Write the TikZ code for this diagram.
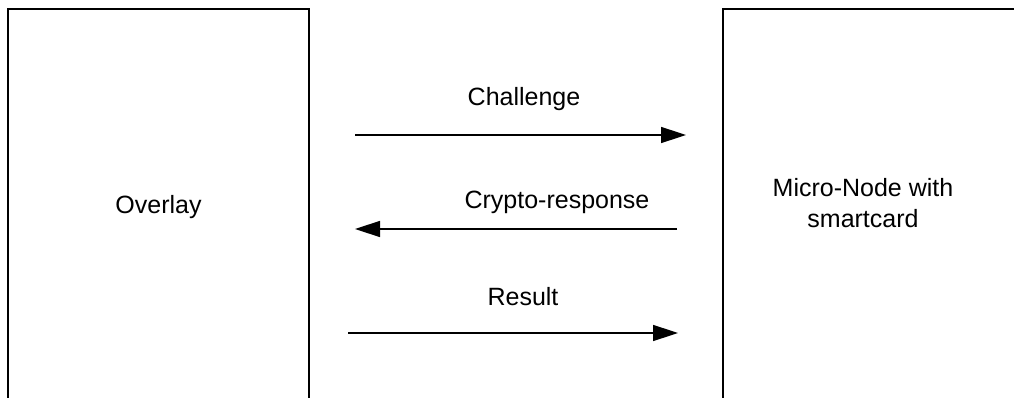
\documentclass[tikz,border=0pt]{standalone}
\usepackage{fontspec}
\setmainfont{Liberation Sans}
\usetikzlibrary{arrows.meta}
\begin{document}
\begin{tikzpicture}[x=1pt,y=-1pt,
  panel/.style={draw, line width=1.6pt, inner sep=0pt, outer sep=0pt},
  lbl/.style={font=\fontsize{25}{31}\selectfont, inner sep=0pt, align=center},
  msg/.style={line width=1.5pt, -{Triangle[length=25pt,width=16pt]}}]
\useasboundingbox (0,0) rectangle (1014,398);
\clip (0,0) rectangle (1014,398);
\node[panel, minimum width=301pt, minimum height=400pt, anchor=north west] (overlay) at (8,9) {};
\node[panel, minimum width=300pt, minimum height=400pt, anchor=north west] (micro) at (723,9) {};
\node[lbl] (overlaytxt) at (158.5,207) {Overlay};
\node[lbl] (microtxt) at (863,203) {Micro-Node with\\smartcard};
\coordinate (a1s) at (355,135);
\coordinate (a1e) at (686,135);
\coordinate (a2s) at (677,229);
\coordinate (a2e) at (355,229);
\coordinate (a3s) at (348,333);
\coordinate (a3e) at (678,333);
\draw[msg] (a1s) -- (a1e);
\draw[msg] (a2s) -- (a2e);
\draw[msg] (a3s) -- (a3e);
\node[lbl, anchor=base] (chal) at (524,106) {Challenge};
\node[lbl, anchor=base] (resp) at (557,208) {Crypto-response};
\node[lbl, anchor=base] (res) at (523,305) {Result};
\end{tikzpicture}
\end{document}
